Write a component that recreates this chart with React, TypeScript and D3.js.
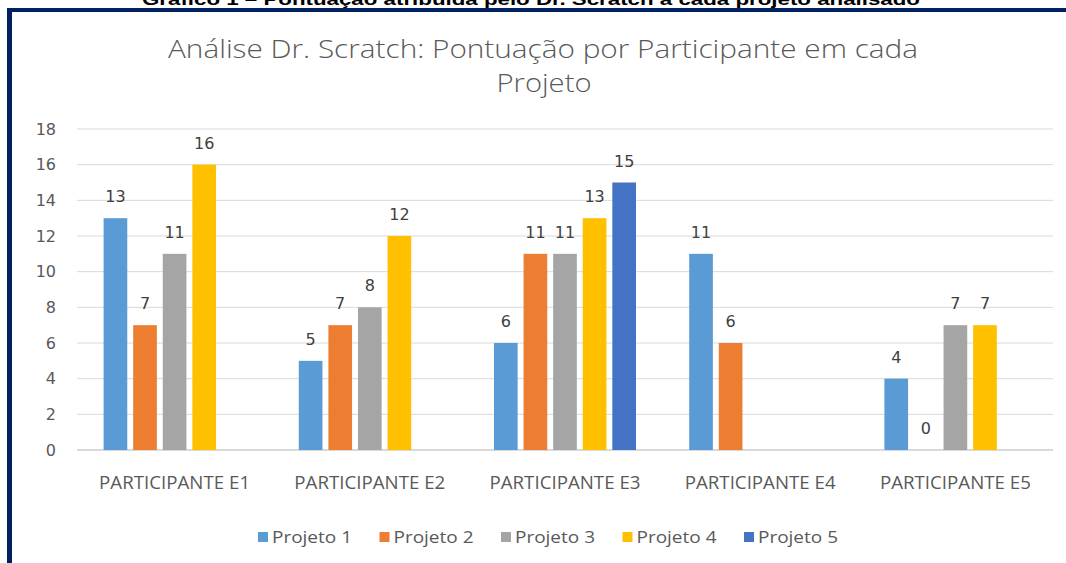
import React from 'react';
import * as d3 from 'd3';

const participants = ['PARTICIPANTE E1', 'PARTICIPANTE E2', 'PARTICIPANTE E3', 'PARTICIPANTE E4', 'PARTICIPANTE E5'];
const projects = ['Projeto 1', 'Projeto 2', 'Projeto 3', 'Projeto 4', 'Projeto 5'];
const projectColors = ['#5B9BD5', '#ED7D31', '#A5A5A5', '#FFC000', '#4472C4'];
// pontuação por participante, uma linha por projeto (null = sem barra)
const projeto1 = [13, 5, 6, 11, 4];
const projeto2 = [7, 7, 11, 6, 0];
const projeto3 = [11, 8, 11, null, 7];
const projeto4 = [16, 12, 13, null, 7];
const projeto5 = [null, null, 15, null, null];
const seriesValues = [projeto1, projeto2, projeto3, projeto4, projeto5];
const yTicks = [0, 2, 4, 6, 8, 10, 12, 14, 16, 18];

const W = 1066;
const H = 563;
const left = 77;
const right = 1053;
const top = 129;
const bottom = 450;

const App: React.FC = () => {
    const x0 = d3.scaleBand<string>().domain(participants).range([left, right]);
    const groupW = 142;
    const x1 = d3.scaleBand<string>()
        .domain(projects)
        .range([(x0.bandwidth() - groupW) / 2, (x0.bandwidth() + groupW) / 2])
        .paddingInner(0.2);
    const y = d3.scaleLinear().domain([0, 18]).range([bottom, top]);
    const legendX = d3.scalePoint<string>().domain(projects).range([258, 744]);

    const labelFont = '"DejaVu Sans", sans-serif';

    return (
        <svg width={W} height={H} style={{ position: 'absolute', left: 0, top: 0, background: '#fff' }}>
            <rect x={0} y={0} width={W} height={H} fill="#fff" />
            {/* legenda do documento, cortada no topo como no original */}
            <text x={531} y={5} textAnchor="middle" fontFamily='"Liberation Sans", sans-serif'
                fontWeight="bold" fontSize={17} fill="#000" textLength={778} lengthAdjust="spacingAndGlyphs">
                Gráfico 1 – Pontuação atribuída pelo Dr. Scratch a cada projeto analisado
            </text>
            <rect x={7} y={8} width={W - 7} height={4} fill="#002060" />
            <rect x={7} y={8} width={5} height={H - 8} fill="#002060" />

            <g fontFamily='"Open Sans", sans-serif' fill="#595959" textAnchor="middle" fontWeight={300}>
                <text x={543} y={58} fontSize={25} textLength={750} lengthAdjust="spacingAndGlyphs">
                    Análise Dr. Scratch: Pontuação por Participante em cada
                </text>
                <text x={544} y={92} fontSize={25} textLength={95} lengthAdjust="spacingAndGlyphs">Projeto</text>
            </g>

            {yTicks.map(t => (
                <g key={t}>
                    <line x1={left} x2={right} y1={y(t)} y2={y(t)} stroke="#d9d9d9"
                        strokeWidth={t === 0 ? 2 : 1} />
                    <text x={56} y={y(t)} dy="0.36em" textAnchor="end" fontFamily={labelFont}
                        fontSize={16} fill="#595959">{t}</text>
                </g>
            ))}

            {participants.map((p, i) => (
                <g key={p} transform={`translate(${x0(p)},0)`}>
                    {projects.map((s, j) => {
                        const v = seriesValues[j][i];
                        if (v === null) return null;
                        const bx = x1(s)!;
                        return (
                            <g key={s}>
                                <rect x={bx} y={y(v)} width={x1.bandwidth()} height={y(0) - y(v)}
                                    fill={projectColors[j]} />
                                <text x={bx + x1.bandwidth() / 2} y={y(v) - 16} textAnchor="middle"
                                    fontFamily={labelFont} fontSize={16} fill="#404040">{v}</text>
                            </g>
                        );
                    })}
                    <text x={x0.bandwidth() / 2} y={489} textAnchor="middle" fontFamily='"Open Sans", sans-serif'
                        fontSize={18} fill="#595959" textLength={151} lengthAdjust="spacingAndGlyphs">{p}</text>
                </g>
            ))}

            {projects.map((s, j) => (
                <g key={s} transform={`translate(${legendX(s)},537)`}>
                    <rect x={0} y={-5} width={10} height={10} fill={projectColors[j]} />
                    <text x={14} y={0} dy="0.36em" fontFamily='"Open Sans", sans-serif' fontSize={17}
                        fill="#595959" textLength={80} lengthAdjust="spacingAndGlyphs">{s}</text>
                </g>
            ))}
        </svg>
    );
};

export default App;
